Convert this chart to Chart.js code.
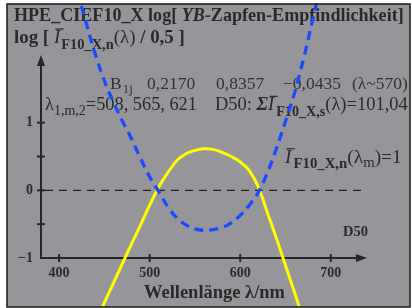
<!DOCTYPE html>
<html>
<head>
<meta charset="utf-8">
<script src="https://cdn.jsdelivr.net/npm/chart.js@4"></script>
<style>
  html, body { margin: 0; padding: 0; background: #fff; }
  canvas { display: block; }
</style>
</head>
<body>
<canvas id="chart" width="412" height="308"></canvas>
<script>
// --- Data ---
const wavelengths = [420, 430, 440, 450, 460, 470, 480, 490, 500, 510, 520, 530, 540, 550,
                     560, 570, 580, 590, 600, 610, 620, 630, 640, 650, 660, 670, 680, 690];
// log of YB cone sensitivity (blue dashed)
const blueLog = [2.94, 2.47, 2.01, 1.62, 1.30, 1.02, 0.76, 0.47, 0.20, -0.02, -0.24, -0.41, -0.51, -0.57,
                 -0.59, -0.58, -0.55, -0.48, -0.37, -0.22, -0.03, 0.26, 0.62, 1.02, 1.44, 1.95, 2.52, 3.10];
// yellow curve
const yellowLog = [-2.55, -2.25, -1.96, -1.66, -1.37, -1.08, -0.79, -0.51, -0.22, 0.05, 0.26, 0.44, 0.54, 0.59,
                   0.615, 0.605, 0.56, 0.50, 0.42, 0.29, 0.05, -0.33, -0.71, -1.11, -1.51, -1.92, -2.33, -2.75];
const xTicks = [400, 500, 600, 700];
const yTicks = [-1, -0.5, 0, 0.5, 1];

const SERIF = '"Liberation Serif", "Times New Roman", serif';
const INK = '#2a2a2a';

function toPoints(ys) {
    return wavelengths.map((w, i) => ({ x: w, y: ys[i] }));
}

function fontOf(r, k) {
    return (r.st || '') + ' ' + (r.s * k).toFixed(2) + 'px ' + SERIF;
}

// width of a row of text pieces at scale k
function runsWidth(ctx, runs, k) {
    let w = 0;
    runs.forEach(r => {
        ctx.font = fontOf(r, k);
        w += ctx.measureText(r.t).width + (r.sp || 0);
    });
    return w;
}

// draw text pieces one after the other; if endX given, sizes are scaled to fit
function drawRuns(ctx, x, y, runs, endX) {
    let k = 1;
    if (endX) k = (endX - x) / runsWidth(ctx, runs, 1);
    runs.forEach(r => {
        if (r.at !== undefined) x = r.at;
        ctx.font = fontOf(r, k);
        ctx.fillStyle = r.c || INK;
        ctx.fillText(r.t, x, y + (r.dy || 0));
        const w = ctx.measureText(r.t).width;
        if (r.bar) {
            const by = y - r.s * k * 0.74;
            ctx.save();
            ctx.strokeStyle = r.c || INK;
            ctx.lineWidth = 1.2;
            ctx.beginPath();
            ctx.moveTo(x + 1.5, by);
            ctx.lineTo(x + w + 3.5, by);
            ctx.stroke();
            ctx.restore();
        }
        x += w + (r.sp || 0);
    });
    return x;
}

const backdrop = {
    id: 'backdrop',
    beforeDraw(chart) {
        const ctx = chart.ctx;
        ctx.save();
        ctx.fillStyle = '#fff';
        ctx.fillRect(0, 0, chart.width, chart.height);
        ctx.fillStyle = '#96969a';
        ctx.fillRect(7, 4, 403, 303);
        ctx.restore();
    },
    beforeDatasetsDraw(chart) {
        const ctx = chart.ctx;
        const xs = chart.scales.x, ys = chart.scales.y;
        const x0 = xs.getPixelForValue(380), x1 = xs.getPixelForValue(740);
        const yb = ys.getPixelForValue(-1), yt = ys.getPixelForValue(2);
        const yz = ys.getPixelForValue(0);
        ctx.save();
        // zero line
        ctx.strokeStyle = '#222';
        ctx.lineWidth = 1.3;
        ctx.setLineDash([8, 6]);
        ctx.beginPath();
        ctx.moveTo(x0 + 4, yz);
        ctx.lineTo(x1, yz);
        ctx.stroke();
        ctx.setLineDash([]);
        // axes with arrows
        ctx.strokeStyle = '#262626';
        ctx.fillStyle = '#262626';
        ctx.lineWidth = 2;
        ctx.beginPath();
        ctx.moveTo(x0, yt + 8);
        ctx.lineTo(x0, yb);
        ctx.lineTo(x1 - 8, yb);
        ctx.stroke();
        ctx.beginPath();
        ctx.moveTo(x0, yt); ctx.lineTo(x0 - 4, yt + 11); ctx.lineTo(x0 + 4, yt + 11); ctx.closePath();
        ctx.fill();
        ctx.beginPath();
        ctx.moveTo(x1, yb); ctx.lineTo(x1 - 11, yb - 4); ctx.lineTo(x1 - 11, yb + 4); ctx.closePath();
        ctx.fill();
        xTicks.forEach(v => {
            const px = xs.getPixelForValue(v);
            ctx.beginPath(); ctx.moveTo(px, yb - 4); ctx.lineTo(px, yb + 4); ctx.stroke();
        });
        yTicks.forEach(v => {
            if (v === -1) return;
            const py = ys.getPixelForValue(v);
            ctx.beginPath(); ctx.moveTo(x0 - 4, py); ctx.lineTo(x0 + 4, py); ctx.stroke();
        });

        // texts
        ctx.textBaseline = 'alphabetic';
        ctx.textAlign = 'left';
        drawRuns(ctx, 14, 21, [
            { t: 'HPE_CIEF10_X log[ ', s: 17, st: 'bold' },
            { t: 'YB', s: 17, st: 'italic bold' },
            { t: '-Zapfen-Empfindlichkeit]', s: 17, st: 'bold' }
        ], 404);
        drawRuns(ctx, 14, 43, [
            { t: 'log [ ', s: 17, st: 'bold' },
            { t: 'I', s: 17, st: 'italic', bar: true, sp: 1 },
            { t: 'F10_X,n', s: 13, st: 'bold', dy: 6 },
            { t: '(λ)', s: 17 },
            { t: ' / 0,5 ]', s: 17, st: 'bold' }
        ], 185);
        const grey = '#333';
        drawRuns(ctx, 110, 89, [
            { t: 'B', s: 17.5, c: grey, sp: 1 },
            { t: '1j', s: 13, c: grey, dy: 4 },
            { t: '0,2170', s: 17.5, c: grey, at: 147 },
            { t: '0,8357', s: 17.5, c: grey, at: 216 },
            { t: '−0,0435', s: 17.5, c: grey, at: 283 },
            { t: '(λ~570)', s: 17.5, c: grey, at: 352 }
        ]);
        drawRuns(ctx, 45, 110, [
            { t: 'λ', s: 17 },
            { t: '1,m,2', s: 13, dy: 5 },
            { t: '=508, 565, 621', s: 17 }
        ], 197);
        drawRuns(ctx, 215, 110, [
            { t: 'D50: ', s: 17 },
            { t: 'Σ', s: 17, st: 'italic bold' },
            { t: 'I', s: 17, st: 'italic', bar: true, sp: 2 },
            { t: 'F10_X,s', s: 13, st: 'bold', dy: 6 },
            { t: '(λ)=101,04', s: 17 }
        ], 408);
        drawRuns(ctx, 285, 163, [
            { t: 'I', s: 17, st: 'italic', bar: true, sp: 2 },
            { t: 'F10_X,n', s: 13, st: 'bold', dy: 5 },
            { t: '(λ', s: 17 },
            { t: 'm', s: 13, dy: 4 },
            { t: ')=1', s: 17 }
        ], 402);
        drawRuns(ctx, 343, 236, [{ t: 'D50', s: 14, st: 'bold' }], 368);
        const title = [{ t: 'Wellenlänge λ/nm', s: 17, st: 'bold' }];
        drawRuns(ctx, 144, 298, title, 285);
        ctx.restore();
    },
    afterDraw(chart) {
        const ctx = chart.ctx;
        ctx.save();
        ctx.strokeStyle = '#222';
        ctx.lineWidth = 1.6;
        ctx.strokeRect(7, 4, 403, 303);
        ctx.restore();
    }
};

new Chart(document.getElementById('chart'), {
    type: 'line',
    data: {
        datasets: [
            {
                data: toPoints(blueLog),
                borderColor: '#1a4cff',
                borderWidth: 3.3,
                borderDash: [9, 6],
                pointRadius: 0,
                tension: 0.4,
                clip: { left: 0, top: 52, right: 0, bottom: 50 }
            },
            {
                data: toPoints(yellowLog),
                borderColor: '#ffff00',
                borderWidth: 3,
                pointRadius: 0,
                tension: 0.4,
                clip: { left: 0, top: 52, right: 0, bottom: 50 }
            }
        ]
    },
    options: {
        responsive: false,
        animation: false,
        events: [],
        layout: { padding: { left: 0, top: 55, right: 45, bottom: 0 } },
        plugins: { legend: { display: false }, tooltip: { enabled: false } },
        scales: {
            x: {
                type: 'linear',
                min: 380,
                max: 740,
                afterBuildTicks: s => { s.ticks = xTicks.map(v => ({ value: v })); },
                afterFit: s => { s.height = 50; },
                grid: { display: false, drawTicks: false },
                border: { display: false },
                ticks: {
                    padding: 7,
                    autoSkip: false,
                    maxRotation: 0,
                    color: INK,
                    font: { family: SERIF, size: 14, weight: 'bold' },
                    callback: v => String(v)
                }
            },
            y: {
                min: -1,
                max: 2,
                afterBuildTicks: s => { s.ticks = yTicks.map(v => ({ value: v })); },
                afterFit: s => { s.width = 41; },
                grid: { display: false, drawTicks: false },
                border: { display: false },
                ticks: {
                    padding: 8,
                    autoSkip: false,
                    color: INK,
                    font: { family: SERIF, size: 14, weight: 'bold' },
                    callback: v => v === -1 ? '−1' : (Number.isInteger(v) ? String(v) : '')
                }
            }
        }
    },
    plugins: [backdrop]
});
</script>
</body>
</html>
